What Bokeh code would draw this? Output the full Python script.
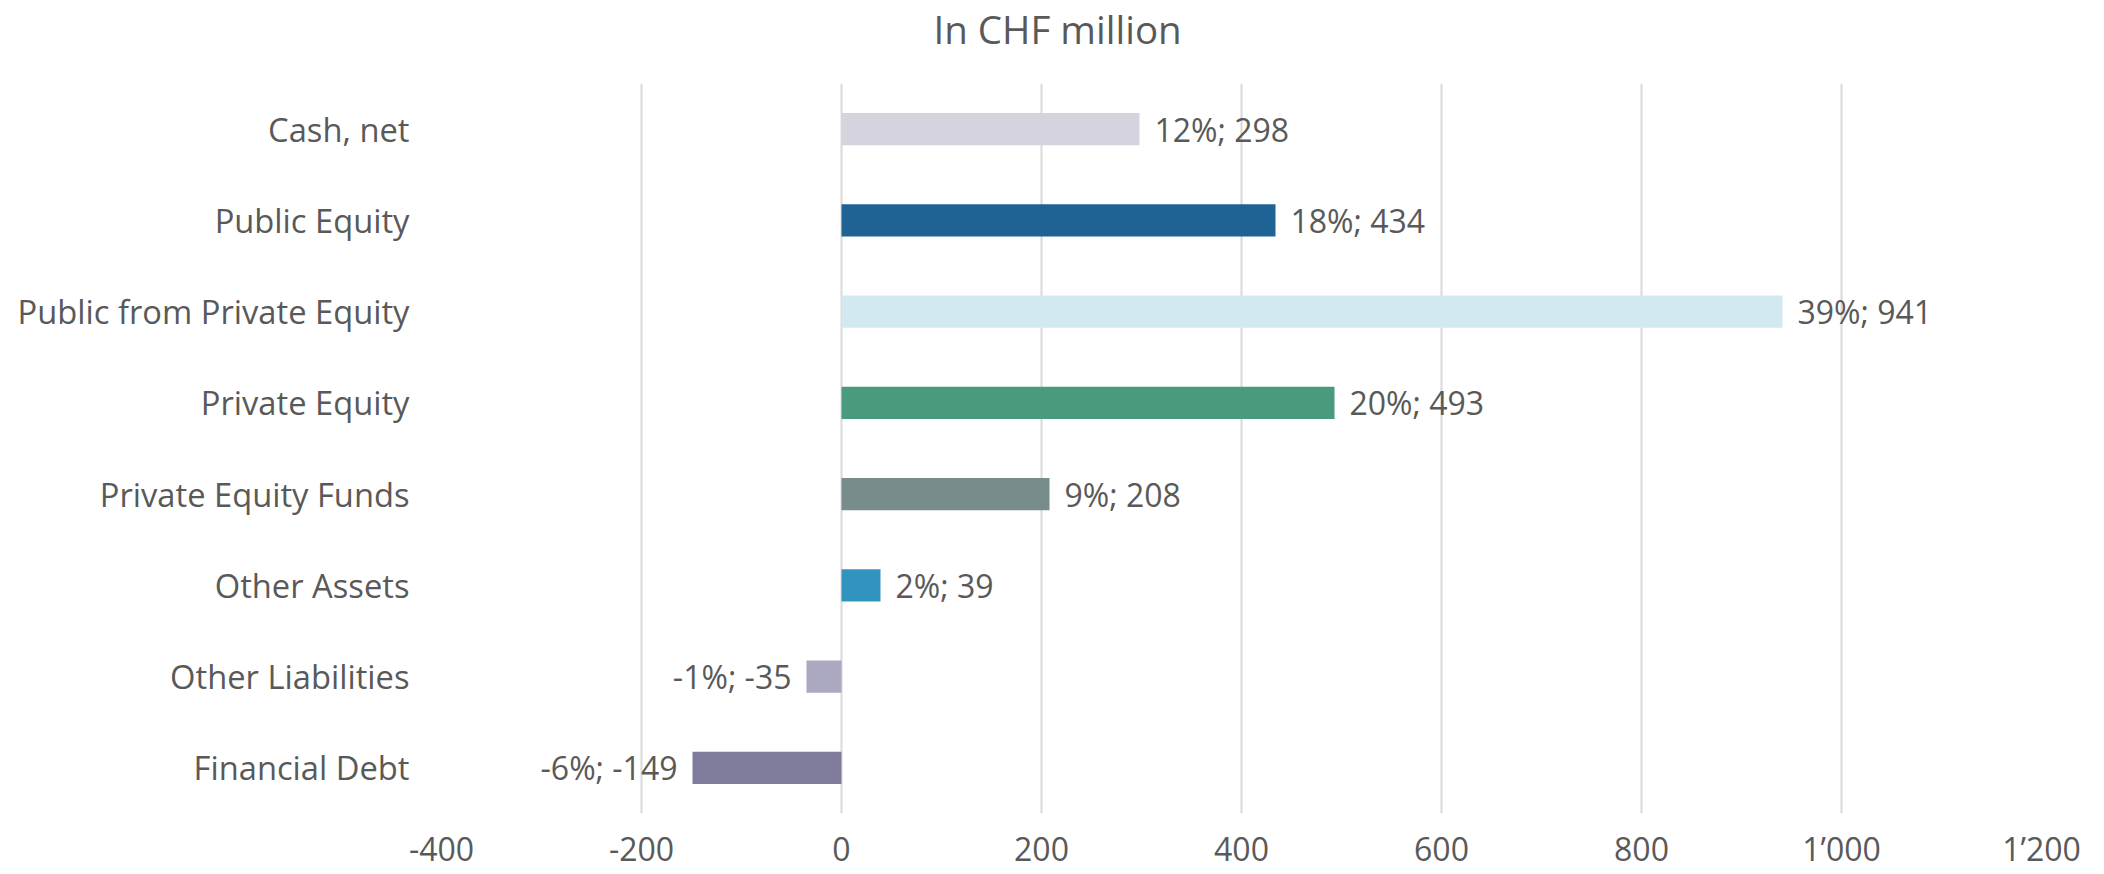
from bokeh.plotting import figure
from bokeh.models import ColumnDataSource, FactorRange, Range1d, FixedTicker, Title
from bokeh.core.properties import value
from bokeh.embed import file_html
from bokeh.resources import INLINE

categories = ["Cash, net", "Public Equity", "Public from Private Equity", "Private Equity",
              "Private Equity Funds", "Other Assets", "Other Liabilities", "Financial Debt"]
values = [298, 434, 941, 493, 208, 39, -35, -149]
shares = ["12%", "18%", "39%", "20%", "9%", "2%", "-1%", "-6%"]
colors = ["#D4D3DE", "#1E6394", "#D2E9F1", "#4A9A7E", "#798C8C", "#3293BE", "#ABA8C2", "#7F7C9C"]
tick_values = [-400, -200, 0, 200, 400, 600, 800, 1000, 1200]
tick_labels = ["-400", "-200", "0", "200", "400", "600", "800", "1\u2019000", "1\u2019200"]
title_text = "In CHF million"

FONT = "Open Sans"
GREY = "#595959"

labels = [f"{s}; {v}" for s, v in zip(shares, values)]

W, H = 2096, 872
p = figure(width=W, height=H, output_backend="svg", toolbar_location=None,
           y_range=FactorRange(factors=list(reversed(categories)), range_padding=0),
           x_range=Range1d(-400, 1200),
           min_border_left=441, min_border_right=W - 2041, min_border_top=83,
           min_border_bottom=H - 814)

# main title (outermost); a blank frame-side title acts as a spacer below it
p.title = Title(text=title_text, text_font=FONT, text_font_size="38.5px", text_color=GREY,
                text_font_style="normal", align="left", offset=492, standoff=0,
                vertical_align="top")
p.add_layout(Title(text=" ", text_font_size="1px", standoff=24), "above")

src = ColumnDataSource(dict(cat=categories, val=values, color=colors, label=labels))
p.hbar(y="cat", right="val", left=0, height=0.355, color="color", source=src, line_color=None)

pos = ColumnDataSource(dict(cat=[c for c, v in zip(categories, values) if v >= 0],
                            val=[v for v in values if v >= 0],
                            label=[l for l, v in zip(labels, values) if v >= 0]))
neg = ColumnDataSource(dict(cat=[c for c, v in zip(categories, values) if v < 0],
                            val=[v for v in values if v < 0],
                            label=[l for l, v in zip(labels, values) if v < 0]))
p.text(x="val", y="cat", text="label", source=pos, x_offset=15, text_align="left",
       text_baseline="middle", text_font=value(FONT), text_font_size="32px", text_color=GREY)
p.text(x="val", y="cat", text="label", source=neg, x_offset=-15, text_align="right",
       text_baseline="middle", text_font=value(FONT), text_font_size="32px", text_color=GREY)

p.outline_line_color = None
p.ygrid.grid_line_color = None
p.xgrid.grid_line_color = "#D9D9D9"
p.xgrid.grid_line_width = 2
p.xaxis.ticker = FixedTicker(ticks=tick_values)
p.xaxis.major_label_overrides = {t: l for t, l in zip(tick_values, tick_labels)}

for ax in (p.xaxis, p.yaxis):
    ax.axis_line_color = None
    ax.major_tick_line_color = None
    ax.minor_tick_line_color = None
    ax.major_tick_out = 0
    ax.major_tick_in = 0
    ax.major_label_text_font = FONT
    ax.major_label_text_color = GREY
p.xaxis.major_label_text_font_size = "32px"
p.yaxis.major_label_text_font_size = "32.7px"
p.xaxis.major_label_standoff = 13
p.yaxis.major_label_standoff = 32

open("out.html", "w").write(file_html(p, INLINE))
